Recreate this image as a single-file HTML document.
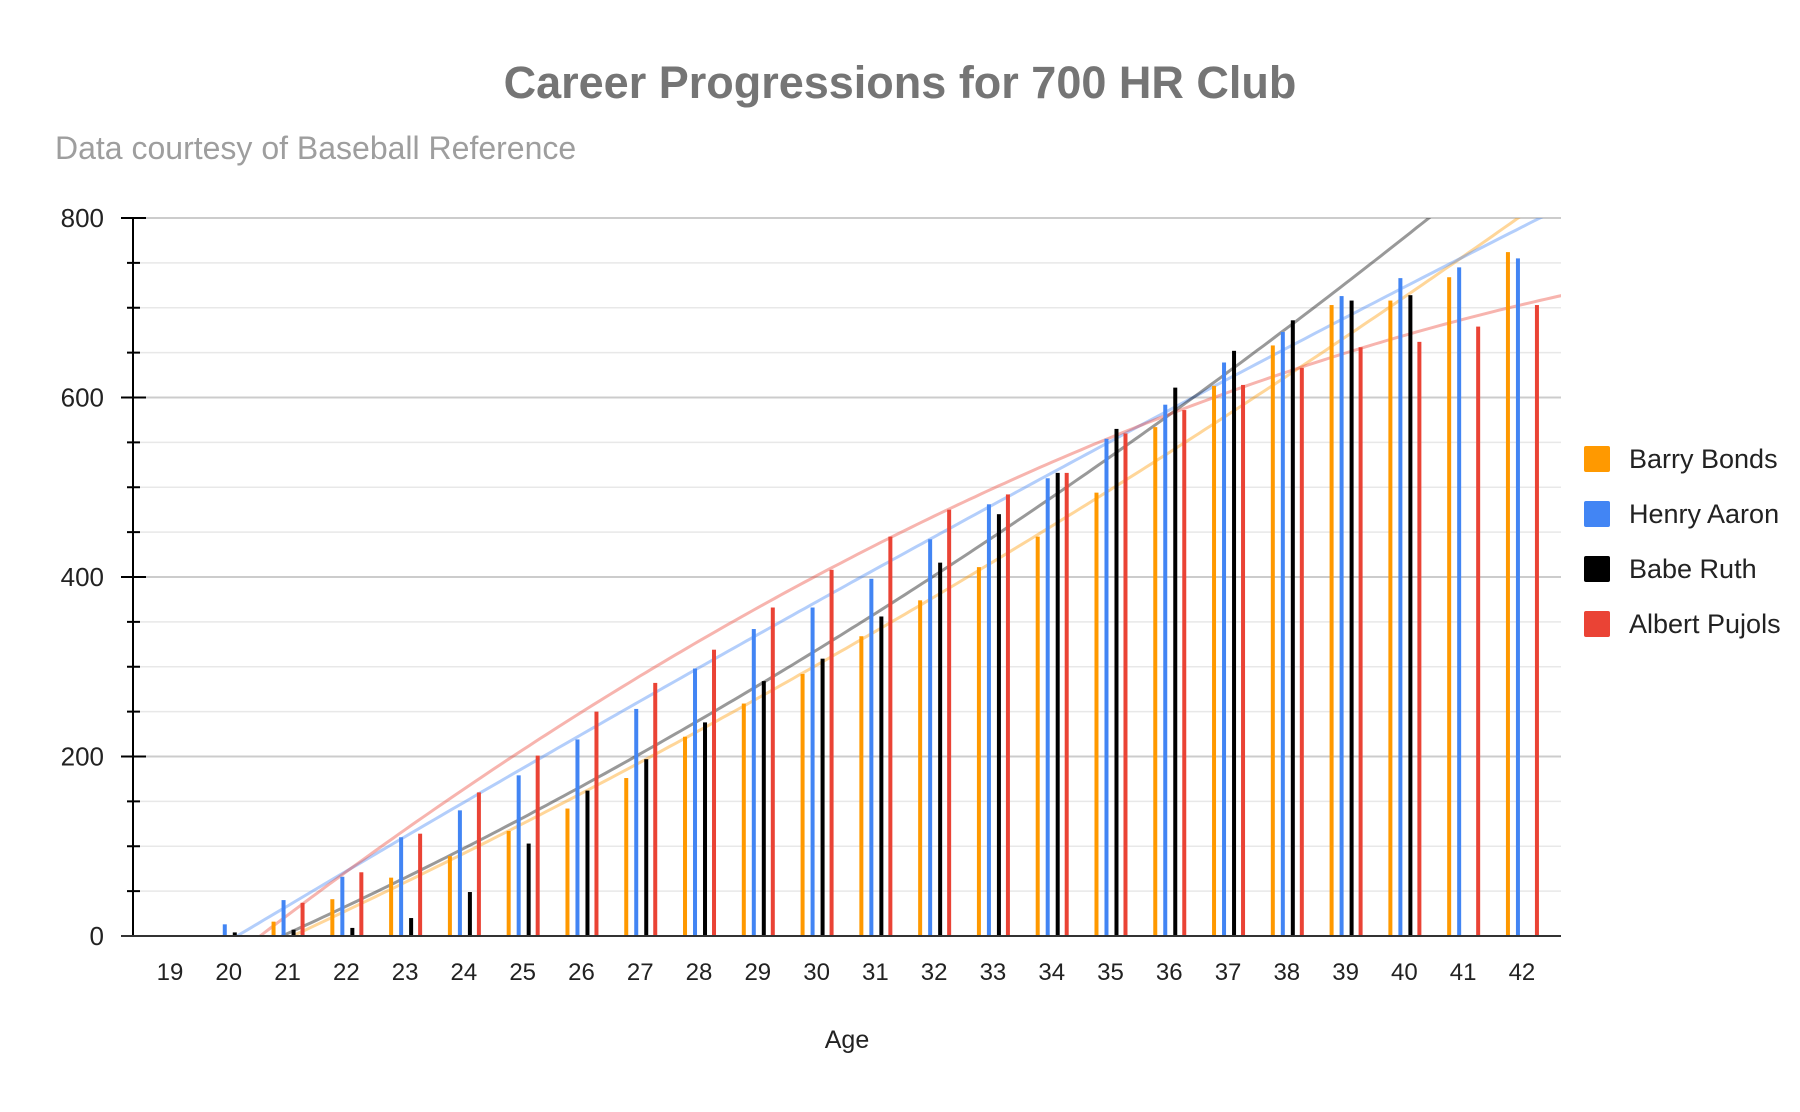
<!DOCTYPE html>
<html><head><meta charset="utf-8"><style>
html,body{margin:0;padding:0;background:#fff;}
svg{display:block;font-family:"Liberation Sans",Arial,sans-serif;}
</style></head><body>
<svg id="chart" width="1800" height="1112" viewBox="0 0 1800 1112">
<text x="900" y="98" text-anchor="middle" font-size="45" font-weight="bold" fill="#757575">Career Progressions for 700 HR Club</text>
<text x="55" y="159" font-size="32" fill="#9e9e9e">Data courtesy of Baseball Reference</text>
<g id="grid"></g>
<g id="trends" clip-path="url(#plotclip)"></g>
<g id="bars"></g>
<g id="axes"></g>
<text x="847" y="1048" text-anchor="middle" font-size="25" fill="#222">Age</text>
<g id="legend"></g>
<defs><clipPath id="plotclip"><rect x="133" y="218" width="1428" height="718"/></clipPath></defs>
</svg>
<script>
const ages = [19,20,21,22,23,24,25,26,27,28,29,30,31,32,33,34,35,36,37,38,39,40,41,42];
const seriesNames = ["Barry Bonds","Henry Aaron","Babe Ruth","Albert Pujols"];
const seriesColors = ["#ff9900","#4285f4","#000000","#ea4335"];
const bonds = [null,null,16,41,65,89,117,142,176,222,259,292,334,374,411,445,494,567,613,658,703,708,734,762];
const aaron = [null,13,40,66,110,140,179,219,253,298,342,366,398,442,481,510,554,592,639,673,713,733,745,755];
const ruth = [0,4,7,9,20,49,103,162,197,238,284,309,356,416,470,516,565,611,652,686,708,714,null,null];
const pujols = [null,null,37,71,114,160,201,250,282,319,366,408,445,475,492,516,560,586,614,633,656,662,679,703];
const yTicks = [0,200,400,600,800];
const series = [bonds,aaron,ruth,pujols];

const NS="http://www.w3.org/2000/svg";
const X0=170, STEP=58.78, Y0=936, Y800=218, L=133, R=1561;
function x(i){return X0+i*STEP;}
function y(v){return Y0-(v/800)*(Y0-Y800);}
function mk(tag,attrs,parent){const e=document.createElementNS(NS,tag);for(const k in attrs)e.setAttribute(k,attrs[k]);parent.appendChild(e);return e;}

const grid=document.getElementById('grid'), axes=document.getElementById('axes');
for(let v=50;v<=800;v+=50){
  const major=v%200===0;
  const g=mk('line',{x1:L,x2:R,y1:y(v),y2:y(v),stroke:major?'#cccccc':'#e8e8e8','stroke-width':major?2:1.5},grid);
  
  
  const t=mk('line',{x1:major?121:127,x2:major?146:140,y1:y(v),y2:y(v),stroke:'#000','stroke-width':2},axes);
  
  
}
yTicks.forEach(v=>{
  const t=mk('text',{x:104,y:y(v)+9,'text-anchor':'end','font-size':26,fill:'#222'},axes);
  t.textContent=v;
  
  
});
const ya=mk('line',{x1:133,x2:133,y1:Y800,y2:Y0,stroke:'#000','stroke-width':2},axes);


const xa=mk('line',{x1:121,x2:R,y1:Y0,y2:Y0,stroke:'#333','stroke-width':2},axes);


ages.forEach((a,i)=>{
  const t=mk('text',{x:x(i),y:980,'text-anchor':'middle','font-size':24,fill:'#222'},axes);
  t.textContent=a;
  
  
});

const barsG=document.getElementById('bars');
const offs=[-14,-4,6,15];
series.forEach((s,si)=>{
  s.forEach((v,i)=>{
    if(v===null)return;
    const h=Y0-y(v);
    const b=mk('rect',{x:x(i)+offs[si]-2,y:y(v),width:4,height:Math.max(h,0.5),fill:seriesColors[si]},barsG);
    
    
  });
});

function fit(s){
  let S=[0,0,0,0,0],T=[0,0,0];
  s.forEach((v,i)=>{if(v===null)return;const a=ages[i];for(let k=0;k<5;k++)S[k]+=Math.pow(a,k);for(let k=0;k<3;k++)T[k]+=v*Math.pow(a,k);});
  const M=[[S[0],S[1],S[2],T[0]],[S[1],S[2],S[3],T[1]],[S[2],S[3],S[4],T[2]]];
  for(let c=0;c<3;c++){for(let r=c+1;r<3;r++){const f=M[r][c]/M[c][c];for(let k=c;k<4;k++)M[r][k]-=f*M[c][k];}}
  const z=[0,0,0];
  for(let r=2;r>=0;r--){let s2=M[r][3];for(let k=r+1;k<3;k++)s2-=M[r][k]*z[k];z[r]=s2/M[r][r];}
  return z;
}
const trendsG=document.getElementById('trends');
series.forEach((s,si)=>{
  const c=fit(s);
  let d='';
  for(let a=18.4;a<=43.2;a+=0.1){
    const v=c[0]+c[1]*a+c[2]*a*a;
    const px=X0+(a-19)*STEP;
    d+=(d?'L':'M')+px.toFixed(1)+','+y(v).toFixed(1);
  }
  const p=mk('path',{d:d,fill:'none',stroke:seriesColors[si],'stroke-opacity':0.4,'stroke-width':3},trendsG);
  
  
});

const leg=document.getElementById('legend');
seriesNames.forEach((n,i)=>{
  const cy=459+i*55;
  const g=mk('g',{},leg);
  
  
  mk('rect',{x:1584,y:cy-13,width:26,height:26,rx:2,fill:seriesColors[i]},g);
  const t=mk('text',{x:1629,y:cy+9,'font-size':27,fill:'#222'},g);
  t.textContent=n;
});
</script>
</body></html>
